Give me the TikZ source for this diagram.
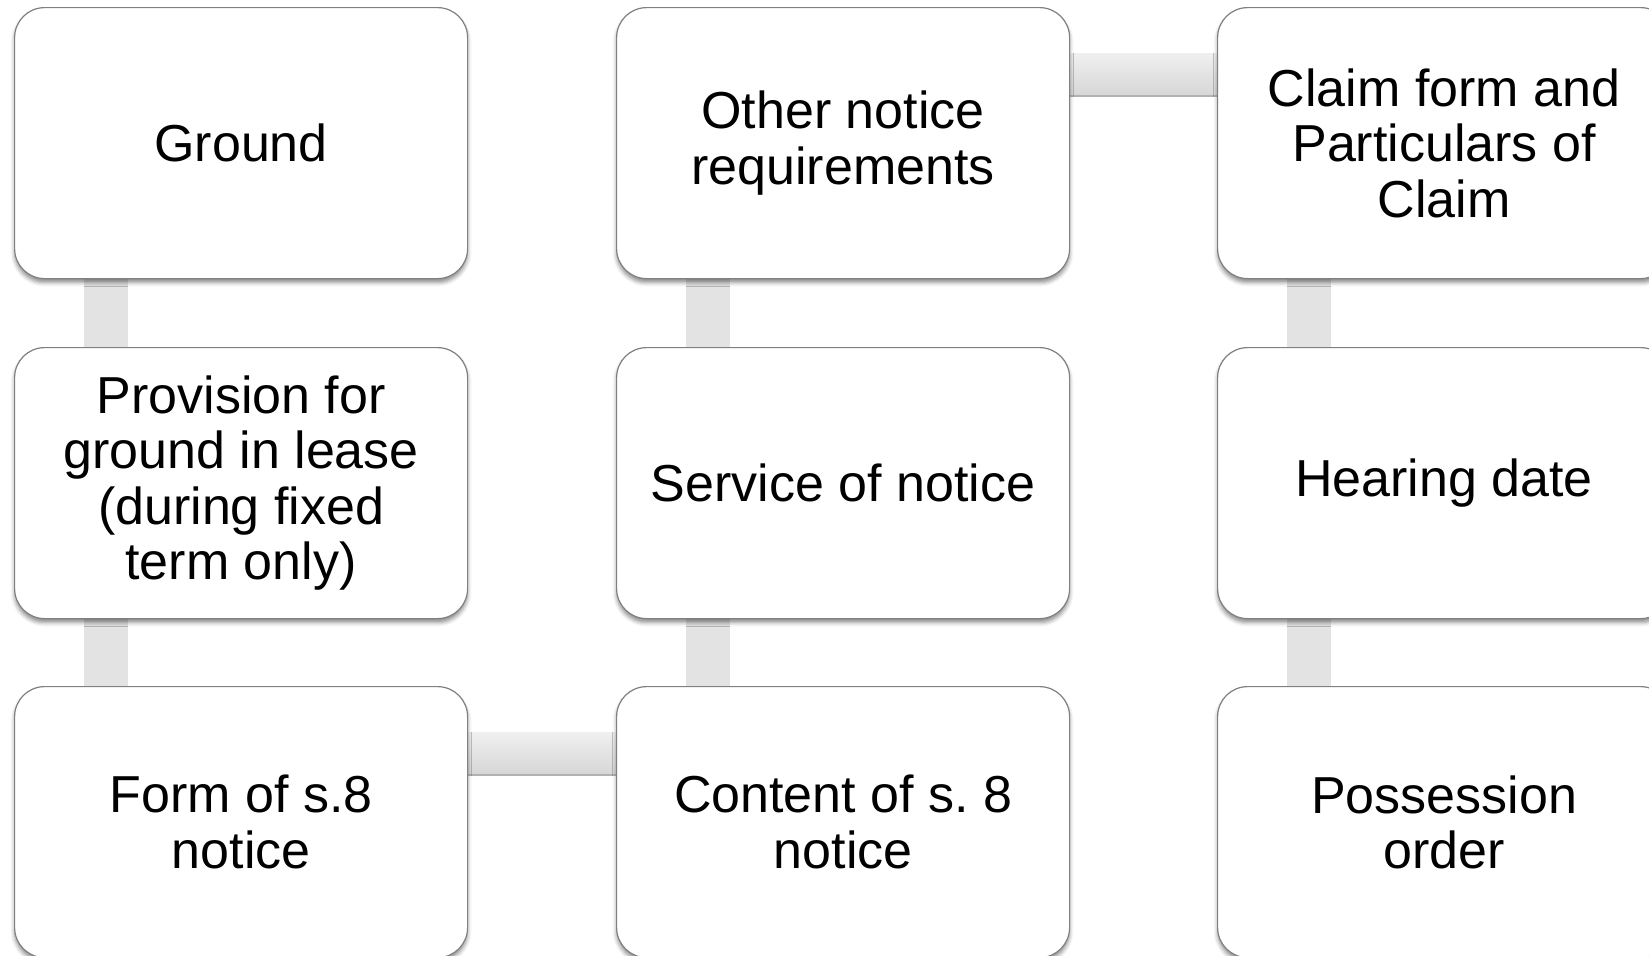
\documentclass[tikz,border=0pt]{standalone}
\usepackage{fontspec}
\setmainfont{Liberation Sans}
\usetikzlibrary{calc,backgrounds,shadows.blur}

\tikzset{
  stage/.style={draw=black!50, line width=0.6pt, fill=white, rounded corners=15pt,
    minimum width=226.5pt, minimum height=135.5pt, anchor=north west,
    align=center, inner sep=4pt,
    font=\fontsize{26pt}{27.7pt}\selectfont,
    blur shadow={shadow xshift=0pt, shadow yshift=-2pt, shadow blur radius=2pt, shadow opacity=45}},
  hlink/.style={top color=black!6, bottom color=black!16},
  hedge/.style={draw=black!30, line width=0.6pt},
  vlink/.style={fill=black!11}
}

\begin{document}
\begin{tikzpicture}
  \useasboundingbox (0pt,0pt) rectangle (824.5pt,-477.5pt);

  \node[stage] (ground)    at (7pt,   -3.5pt)   {Ground};
  \node[stage] (provision) at (7pt,   -173.5pt) {Provision for\\ground in lease\\(during fixed\\term only)};
  \node[stage] (form)      at (7pt,   -343pt)   {Form of s.8\\notice};
  \node[stage] (other)     at (308pt, -3.5pt)   {Other notice\\requirements};
  \node[stage] (service)   at (308pt, -173.5pt) {Service of notice};
  \node[stage] (content)   at (308pt, -343pt)   {Content of s.\ 8\\notice};
  \node[stage] (claim)     at (608.5pt, -3.5pt) {Claim form and\\Particulars of\\Claim};
  \node[stage] (hearing)   at (608.5pt, -173.5pt) {Hearing date};
  \node[stage] (order)     at (608.5pt, -343pt) {Possession\\order};

  \begin{scope}[on background layer]
    % vertical links
    \fill[vlink] ($(ground.south west)+(35pt,0)$) rectangle ($(provision.north west)+(57pt,0)$);
    \fill[vlink] ($(provision.south west)+(35pt,0)$) rectangle ($(form.north west)+(57pt,0)$);
    \fill[vlink] ($(content.north west)+(35pt,0)$) rectangle ($(service.south west)+(57pt,0)$);
    \fill[vlink] ($(service.north west)+(35pt,0)$) rectangle ($(other.south west)+(57pt,0)$);
    \fill[vlink] ($(claim.south west)+(35pt,0)$) rectangle ($(hearing.north west)+(57pt,0)$);
    \fill[vlink] ($(hearing.south west)+(35pt,0)$) rectangle ($(order.north west)+(57pt,0)$);
    % horizontal links
    \shade[hlink] ($(form.north east)+(0,-23pt)$) rectangle ($(content.north west)+(0,-44.5pt)$);
    \draw[hedge] ($(form.north east)+(0,-44.5pt)$) -- ($(content.north west)+(0,-44.5pt)$);
    \shade[hlink] ($(other.north east)+(0,-23pt)$) rectangle ($(claim.north west)+(0,-44.5pt)$);
    \draw[hedge] ($(other.north east)+(0,-44.5pt)$) -- ($(claim.north west)+(0,-44.5pt)$);
  \end{scope}
\end{tikzpicture}
\end{document}
